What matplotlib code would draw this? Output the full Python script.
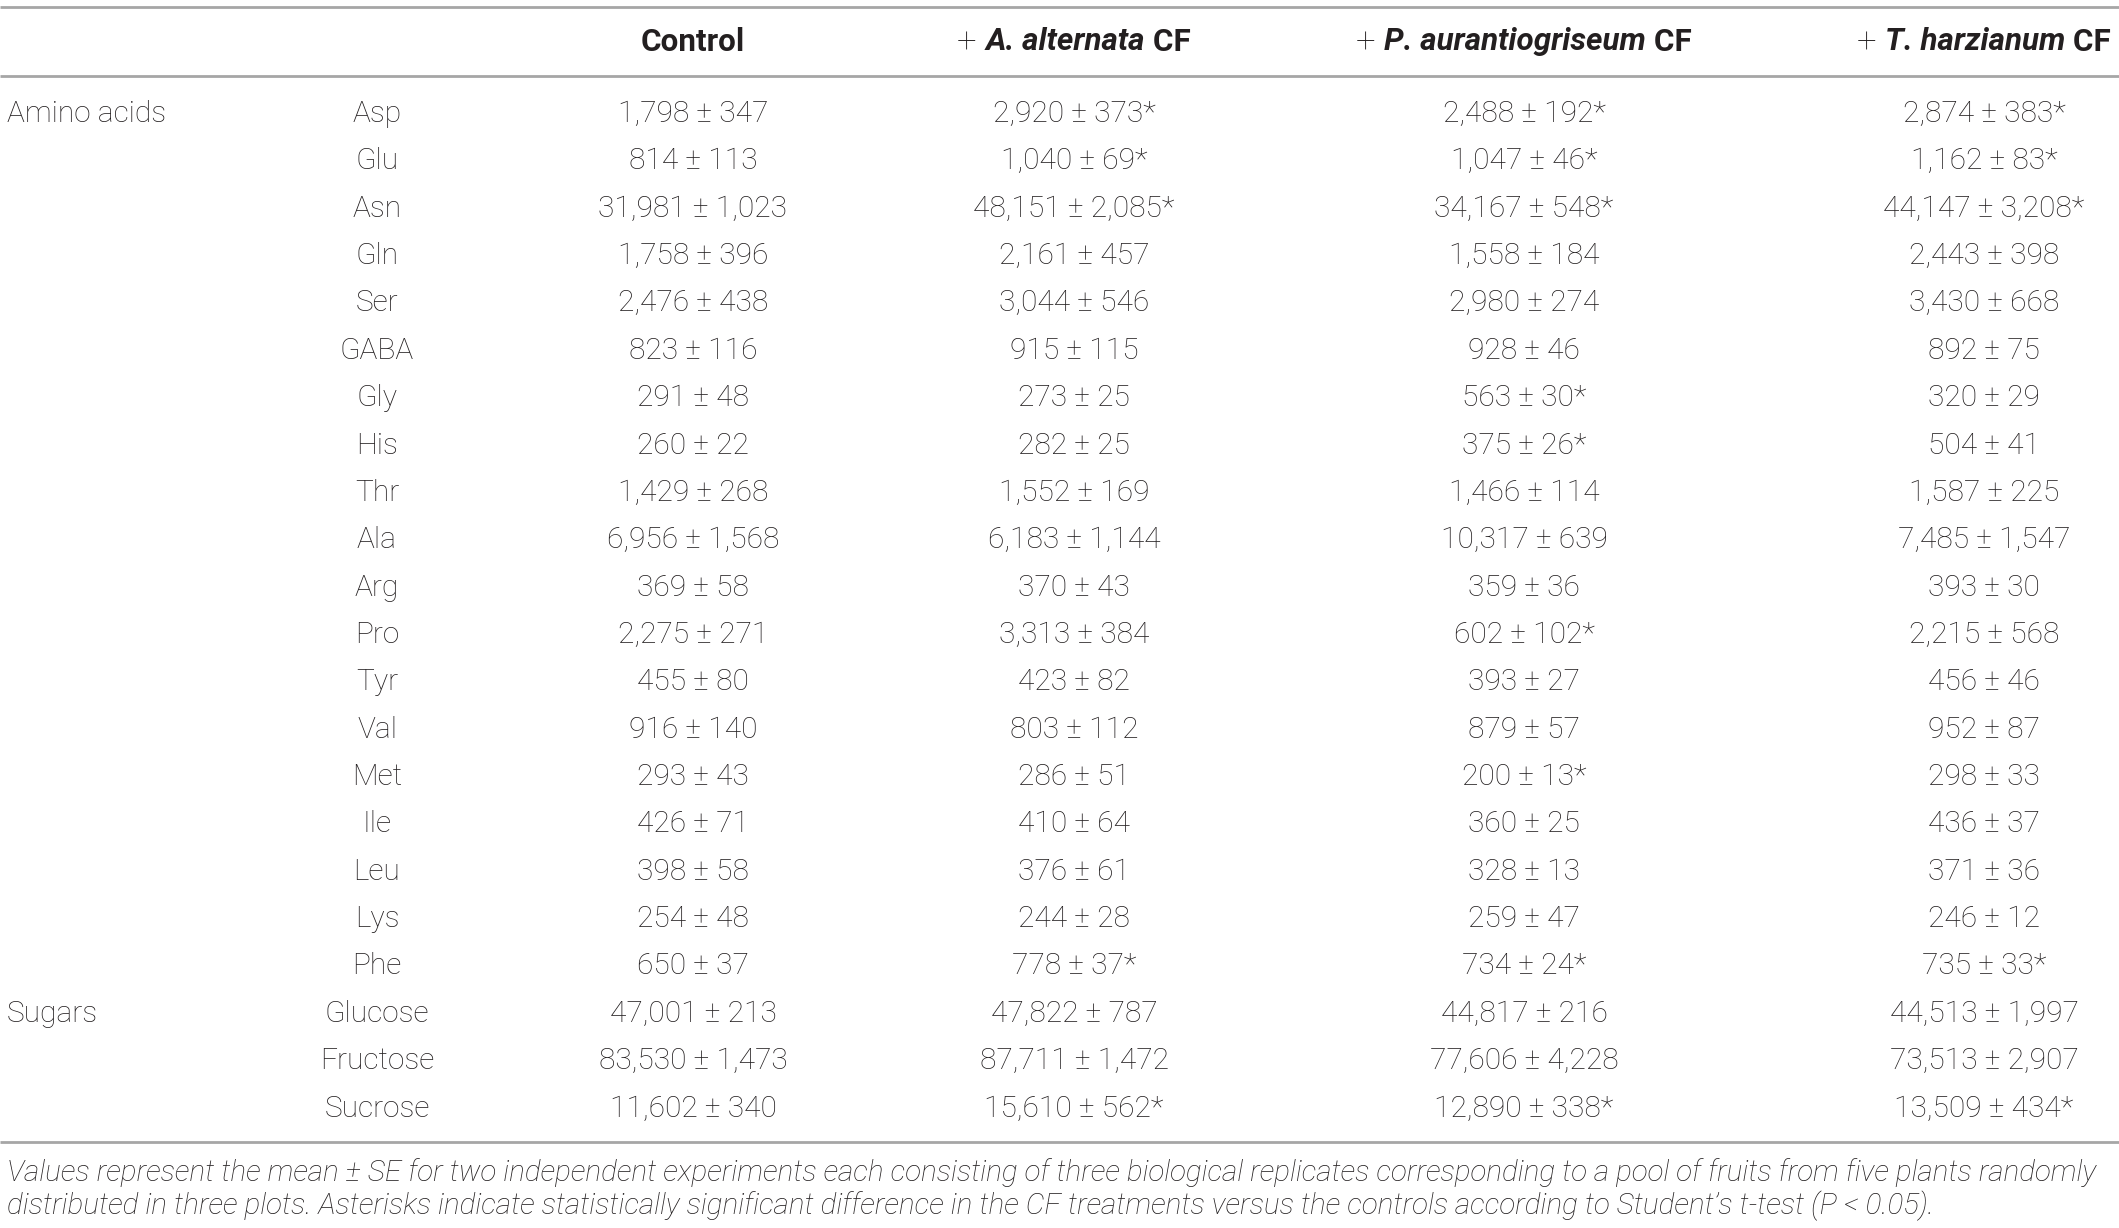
import matplotlib.pyplot as plt

# Table content
compounds = ["Asp", "Glu", "Asn", "Gln", "Ser", "GABA", "Gly", "His", "Thr", "Ala",
             "Arg", "Pro", "Tyr", "Val", "Met", "Ile", "Leu", "Lys", "Phe",
             "Glucose", "Fructose", "Sucrose"]
groups = {"Amino acids": "Asp", "Sugars": "Glucose"}

control_mean = [1798, 814, 31981, 1758, 2476, 823, 291, 260, 1429, 6956, 369, 2275, 455,
                916, 293, 426, 398, 254, 650, 47001, 83530, 11602]
control_se = [347, 113, 1023, 396, 438, 116, 48, 22, 268, 1568, 58, 271, 80, 140, 43, 71,
              58, 48, 37, 213, 1473, 340]
control_sig = []

alt_mean = [2920, 1040, 48151, 2161, 3044, 915, 273, 282, 1552, 6183, 370, 3313, 423, 803,
            286, 410, 376, 244, 778, 47822, 87711, 15610]
alt_se = [373, 69, 2085, 457, 546, 115, 25, 25, 169, 1144, 43, 384, 82, 112, 51, 64, 61,
          28, 37, 787, 1472, 562]
alt_sig = ["Asp", "Glu", "Asn", "Phe", "Sucrose"]

pen_mean = [2488, 1047, 34167, 1558, 2980, 928, 563, 375, 1466, 10317, 359, 602, 393, 879,
            200, 360, 328, 259, 734, 44817, 77606, 12890]
pen_se = [192, 46, 548, 184, 274, 46, 30, 26, 114, 639, 36, 102, 27, 57, 13, 25, 13, 47,
          24, 216, 4228, 338]
pen_sig = ["Asp", "Glu", "Asn", "Gly", "His", "Pro", "Met", "Phe", "Sucrose"]

tri_mean = [2874, 1162, 44147, 2443, 3430, 892, 320, 504, 1587, 7485, 393, 2215, 456, 952,
            298, 436, 371, 246, 735, 44513, 73513, 13509]
tri_se = [383, 83, 3208, 398, 668, 75, 29, 41, 225, 1547, 30, 568, 46, 87, 33, 37, 36, 12,
          33, 1997, 2907, 434]
tri_sig = ["Asp", "Glu", "Asn", "Phe", "Sucrose"]

headers = [
    [("Control", "normal", "bold")],
    [("+ ", "normal", "light"), ("A. alternata", "italic", "bold"), (" CF", "normal", "bold")],
    [("+ ", "normal", "light"), ("P. aurantiogriseum", "italic", "bold"), (" CF", "normal", "bold")],
    [("+ ", "normal", "light"), ("T. harzianum", "italic", "bold"), (" CF", "normal", "bold")],
]

footnote = ["Values represent the mean \u00b1 SE for two independent experiments each consisting "
            "of three biological replicates corresponding to a pool of fruits from five plants randomly",
            "distributed in three plots. Asterisks indicate statistically significant difference in the "
            "CF treatments versus the controls according to Student\u2019s t-test (P < 0.05)."]

columns = [(control_mean, control_se, control_sig), (alt_mean, alt_se, alt_sig),
           (pen_mean, pen_se, pen_sig), (tri_mean, tri_se, tri_sig)]

# layout (pixels)
W, H = 2119, 1228
col_x = [693, 1074, 1524, 1984]
comp_x = 377
group_x = 7
row0, row_step = 114, 47.36
header_y = 42
lines_y = [7, 76, 1142]
foot_y = [1173, 1206]

txt = "#231f20"
fs = 21.5
plt.rcParams['font.family'] = ['Roboto', 'DejaVu Sans']

fig = plt.figure(figsize=(W / 100, H / 100), dpi=100)
ax = fig.add_axes([0, 0, 1, 1])
ax.set_xlim(0, W)
ax.set_ylim(H, 0)
ax.axis("off")

for y in lines_y:
    ax.plot([0, W], [y, y], color="#a6a6a6", lw=2, solid_capstyle="butt")

# header with mixed styles
renderer = fig.canvas.get_renderer()
for cx, parts in zip(col_x, headers):
    objs = []
    for s, style, weight in parts:
        size = 25 if s.strip() == "+" else 22.6
        t = ax.text(0, header_y, s, fontsize=size, fontstyle=style, fontweight=weight,
                    color=txt, ha="left", va="center")
        objs.append(t)
    widths = []
    for t in objs:
        bb = t.get_window_extent(renderer)
        widths.append(bb.width)
    x = cx - sum(widths) / 2
    for t, w in zip(objs, widths):
        t.set_x(x)
        x += w

for i, c in enumerate(compounds):
    y = row0 + i * row_step
    ax.text(comp_x, y, c, fontsize=fs, fontweight="light", color=txt, ha="center", va="center")
    for cx, (means, ses, sig) in zip(col_x, columns):
        s = "{:,} \u00b1 {:,}".format(means[i], ses[i])
        if c in sig:
            s += "*"
        ax.text(cx, y, s, fontsize=fs, fontweight="light", color=txt, ha="center", va="center")

for g, first in groups.items():
    y = row0 + compounds.index(first) * row_step
    ax.text(group_x, y, g, fontsize=fs, fontweight="light", color=txt, ha="left", va="center")

for y, line in zip(foot_y, footnote):
    ax.text(group_x, y, line, fontsize=21.3, fontstyle="italic", fontweight="light",
            color=txt, ha="left", va="center")

fig.savefig("out.png", dpi=100)
